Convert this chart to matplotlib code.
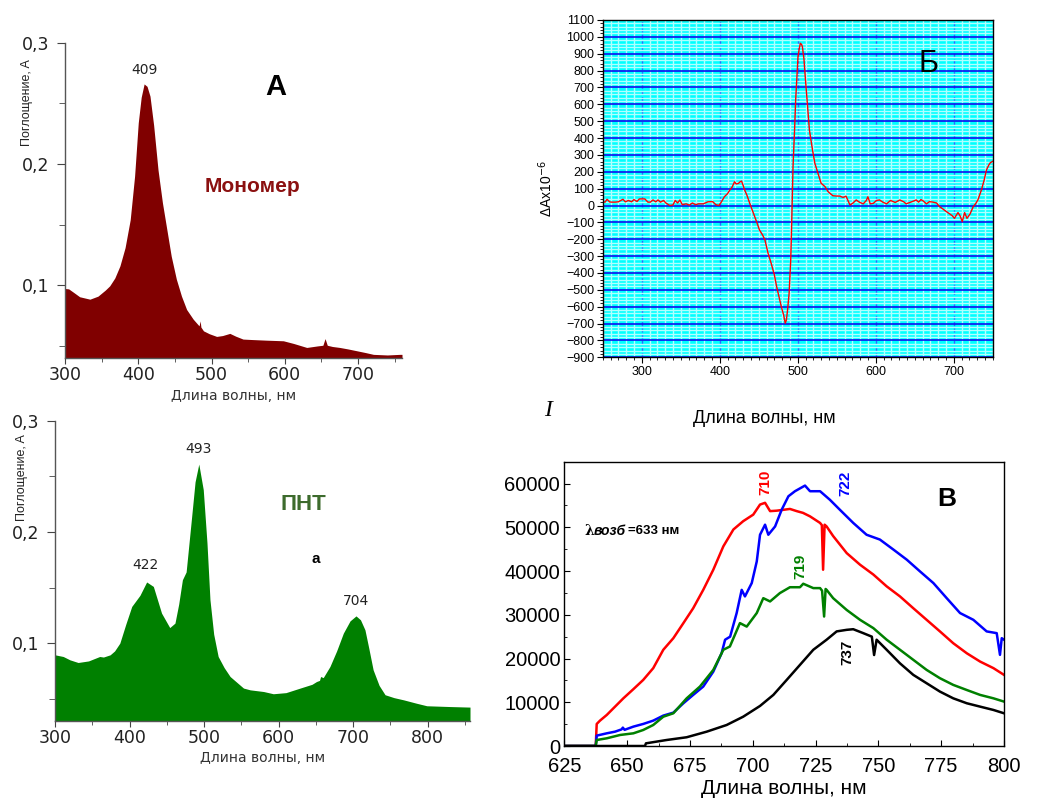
import matplotlib
matplotlib.use("Agg")
import matplotlib.pyplot as plt
import numpy as np
from matplotlib.ticker import MultipleLocator

plt.rcParams['font.family'] = ['Liberation Sans', 'DejaVu Sans']

# ---------------- Panel A: monomer absorption ----------------
mono_wl = [300, 305, 312, 320, 334, 345, 355, 361, 368, 375, 382, 389, 395, 400, 404, 408,
           412, 416, 421, 427, 433, 439, 445, 452, 459, 466, 475, 483, 484.5, 485.5, 489, 497,
           507, 515, 525, 533, 543, 556, 575, 598, 612, 630, 645, 652, 655, 658, 665, 675,
           686, 698, 710, 721, 740, 757, 760]
mono_abs = [0.0973, 0.097, 0.094, 0.0905, 0.0885, 0.091, 0.096, 0.0995, 0.106, 0.116, 0.131,
            0.154, 0.19, 0.234, 0.255, 0.266, 0.264, 0.256, 0.232, 0.195, 0.168, 0.146, 0.124,
            0.105, 0.091, 0.080, 0.072, 0.0665, 0.0706, 0.0655, 0.0624, 0.060,
            0.0578, 0.0585, 0.0603, 0.058, 0.0556, 0.0552, 0.0547, 0.0542, 0.052, 0.0487, 0.050,
            0.0505, 0.056, 0.0505, 0.0495, 0.0487, 0.0475, 0.046, 0.0445, 0.043, 0.0425, 0.043, 0.043]

# ---------------- Panel a: PNT absorption ----------------
pnt_wl = [300, 311, 320, 331, 345, 360, 365, 374, 380, 387, 395, 403, 414, 423, 432, 443, 454,
          461, 466, 471, 476, 483, 488, 493, 499, 504, 508, 513, 519, 527, 535, 553, 562, 580,
          593, 610, 629, 645, 651, 655, 656.5, 660, 669, 678, 687, 696, 704, 710, 716, 721, 727,
          735, 743, 755, 768, 785, 799, 830, 857]
pnt_abs = [0.0895, 0.088, 0.085, 0.0826, 0.084, 0.088, 0.0875, 0.0895, 0.093, 0.100, 0.117,
           0.133, 0.143, 0.155, 0.151, 0.127, 0.114, 0.118, 0.135, 0.157, 0.164, 0.211, 0.245,
           0.261, 0.238, 0.190, 0.139, 0.108, 0.088, 0.078, 0.070, 0.0596, 0.058, 0.0565,
           0.0545, 0.0555, 0.0596, 0.063, 0.0655, 0.0665, 0.070, 0.069, 0.079, 0.093, 0.109, 0.120,
           0.1245, 0.121, 0.112, 0.096, 0.076, 0.062, 0.0536, 0.051, 0.049, 0.046, 0.0437, 0.043, 0.0425]

# ---------------- Panel Б: difference spectrum (wavelength, ΔA×10^6) ----------------
diff_points = [
    (250, 23), (253, 20), (255.6, 37), (259, 21), (262, 20), (266, 20), (270, 22), (276, 37),
    (279, 22), (283, 30), (287, 22), (290, 35), (294, 24), (297, 39), (304, 39), (308, 20),
    (311, 20), (314.5, 33), (318, 22), (321, 33), (324, 20), (328, 30), (331, 15), (336, 0),
    (340, 3), (343, 30), (346, 15), (349, 33), (352, 5), (357, 10), (361, 2), (365, 15),
    (369, 5), (373, 10), (379, 10), (385, 22), (391, 23), (395, 5), (399, 0), (402, 20),
    (406, 52), (410, 70), (413, 92), (416, 110), (419, 141), (421, 128), (424, 131), (426, 140),
    (428, 145), (430, 120), (432, 92), (435, 60), (438.5, 13), (442, -30), (445, -66),
    (448, -105), (451, -145), (455, -175), (458, -204), (462, -283), (466, -343), (470, -410),
    (473, -481), (476, -540), (479, -600), (482, -650), (484, -698), (485.5, -679), (487, -620),
    (489, -520), (491, -330), (492, -165), (494, 230), (496, 450), (497.4, 626), (499, 760),
    (500.4, 883), (502, 930), (503.4, 962), (505, 955), (506, 942), (508, 870), (509, 804),
    (512, 626), (515, 448), (519, 329), (522, 250), (526, 191), (530, 132), (535, 112),
    (539, 82), (545, 58), (550, 56), (554, 56), (558, 48), (562, 55), (567, 3), (571, 15),
    (575, 33), (579, 20), (584, 10), (588, 30), (590, 52), (593, 10), (597, 13), (601, 30),
    (605, 33), (609, 20), (614, 10), (619, 30), (625, 18), (631, 33), (636, 22), (639, 10),
    (645, 20), (652, 33), (655, 20), (658, 35), (661, 27), (665, 10), (669, 23), (673.5, 20),
    (678, 15), (682, -7), (686, -20), (690.6, -36), (695, -50), (698, -60), (701, -76),
    (703, -60), (705.5, -42), (708, -60), (711, -95), (714, -42), (717, -76), (721, -50),
    (725, -7), (728, 10), (731, 33), (733, 60), (735.5, 92), (739, 150), (742, 211),
    (745, 240), (747, 254), (750, 262),
]
diff_wl = [p[0] for p in diff_points]
diff_val = [p[1] for p in diff_points]

# ---------------- Panel В: fluorescence spectra ----------------
red_wl = [625, 637.5, 637.9, 639.2, 641.9, 645.2, 648.5, 652.5, 656.4, 660.4, 664.4, 668.4,
          672.4, 676.3, 680.3, 684.3, 688.3, 692.3, 696.2, 700.2, 702.9, 704.9, 706.9, 709.5,
          712.2, 714.8, 717.5, 720, 722.8, 726.8, 727.5, 728, 728.6, 729.4, 732, 737.4, 742.7,
          748, 753.3, 758.6, 763.9, 769.2, 774.5, 779.8, 785.2, 790.5, 795.8, 800]
red_val = [0, 0, 5040, 5800, 7100, 9000, 10900, 13000, 15100, 17800, 22000, 24650, 28100,
           31500, 35700, 40300, 45650, 49500, 51400, 52900, 55200, 55600, 53700, 53800, 54000,
           54200, 53700, 53300, 52500, 51000, 50500, 40300, 50600, 50200, 48000, 44100, 41450,
           39200, 36500, 34200, 31500, 28850, 26200, 23500, 21200, 19300, 17800, 16260]

blue_wl = [625, 637.5, 637.9, 641.9, 645.2, 647.8, 648.3, 649, 652.5, 656.4, 660.4, 664.4,
           668.4, 672.4, 676.3, 680.3, 684.3, 687.6, 689, 691, 693.6, 695.6, 696.9, 699.6,
           701.6, 702.9, 704.9, 706.2, 708.9, 711.5, 714.2, 716.8, 720.8, 722.8, 726.8, 730.7,
           734.7, 740, 745.3, 750.6, 756, 761.3, 766.6, 771.9, 777.2, 782.5, 787.8, 793.1,
           797.1, 798.4, 799.1, 800]
blue_val = [0, 0, 2370, 2900, 3280, 3800, 4200, 3700, 4430, 5040, 5800, 6950, 7630, 9770,
            11680, 13590, 17000, 21200, 24300, 25000, 30400, 35700, 34200, 37250, 42200, 48300,
            50600, 48300, 50200, 54000, 57100, 58250, 59540, 58250, 58250, 56300, 54000, 51000,
            48300, 47200, 44900, 42600, 39900, 37250, 33800, 30400, 28850, 26200, 25800, 20840,
            24650, 24300]

green_wl = [625, 637.5, 637.9, 641.9, 647.2, 652.5, 656.4, 660.4, 664.4, 668.4, 673.7, 679,
            684.3, 688.3, 690.9, 694.9, 697.6, 701.6, 704.2, 706.9, 710.8, 714.8, 718.8, 720.1,
            724.1, 726.8, 727.6, 728.4, 729, 729.4, 732, 737.4, 742.7, 748, 753.3, 758.6, 763.9,
            769.2, 774.5, 779.8, 785.2, 790.5, 795.8, 800]
green_val = [0, 0, 1370, 1760, 2520, 2900, 3660, 4800, 6700, 7480, 10900, 13600, 17400, 22000,
             22750, 28100, 27300, 30400, 33800, 33050, 34960, 36300, 36300, 37100, 36100, 36100,
             35500, 29600, 35900, 35700, 33800, 31100, 28850, 26950, 24300, 22000, 19700, 17400,
             15500, 13970, 12800, 11680, 10900, 10150]

black_wl = [625, 657.1, 657.5, 665.7, 673.7, 681.7, 689.6, 696.2, 702.9, 708.2, 713.5, 718.8,
            724.1, 729.4, 733.4, 737.4, 740, 744, 747.4, 748.3, 749.3, 753.3, 758.6, 763.9,
            769.2, 774.5, 779.8, 785.2, 790.5, 795.8, 800]
black_val = [0, 0, 610, 1370, 2000, 3280, 4800, 6700, 9160, 11680, 15100, 18550, 22000, 24300,
             26200, 26560, 26700, 25800, 25000, 20800, 24300, 22000, 18900, 16260, 14350, 12440,
             10900, 9770, 9000, 8240, 7480]

abs_yticks = [0.1, 0.2, 0.3]
abs_yticklabels = ["0,1", "0,2", "0,3"]

W, H = 1063, 801
fig = plt.figure(figsize=(W / 100, H / 100), dpi=100)

WIDE = ['DejaVu Sans']


def frac(l, r, t, b):
    return [l / W, 1 - b / H, (r - l) / W, (b - t) / H]


def style_abs(ax, ylab_xy):
    for s in ['top', 'right']:
        ax.spines[s].set_visible(False)
    for s in ['left', 'bottom']:
        ax.spines[s].set_color('#555555')
        ax.spines[s].set_linewidth(1.0)
    ax.tick_params(axis='both', which='both', direction='out', color='#444444')
    ax.tick_params(axis='y', which='major', length=6, pad=5)
    ax.tick_params(axis='y', which='minor', length=4)
    ax.tick_params(axis='x', which='major', length=4, pad=2)
    ax.tick_params(axis='x', which='minor', length=3)
    ax.set_yticks(abs_yticks)
    ax.set_yticklabels(abs_yticklabels)
    ax.yaxis.set_minor_locator(MultipleLocator(0.05))
    ax.xaxis.set_major_locator(MultipleLocator(100))
    ax.xaxis.set_minor_locator(MultipleLocator(50))
    for lab in ax.get_xticklabels() + ax.get_yticklabels():
        lab.set_family(WIDE)
        lab.set_fontsize(12.5)
        lab.set_color('#222222')
    ax.set_xlabel("Длина волны, нм", fontsize=10, color='#333333', labelpad=3, family=WIDE)
    ax.set_ylabel("Поглощение, A", fontsize=9, color='#222222')
    ax.yaxis.set_label_coords(*ylab_xy)


# Panel A
axA = fig.add_axes(frac(65, 402, 42.7, 358))
axA.fill_between(mono_wl, 0, mono_abs, color='#800000', lw=0)
axA.set_xlim(300, 760)
axA.set_ylim(0.04, 0.3)
style_abs(axA, (-0.095, 0.81))
axA.text(409, 0.272, "409", ha='center', va='bottom', fontsize=10, color='#222222', family=WIDE)
fig.text(276 / W, 1 - 87 / H, "A", ha='center', va='center', fontsize=21, fontweight='bold')
fig.text(252 / W, 1 - 186 / H, "Мономер", ha='center', va='center', fontsize=15,
         fontweight='bold', color='#8b1010')

# Panel a
axa = fig.add_axes(frac(55, 470, 420.7, 721))
axa.fill_between(pnt_wl, 0, pnt_abs, color='#008000', lw=0)
axa.set_xlim(300, 857)
axa.set_ylim(0.03, 0.3)
style_abs(axa, (-0.065, 0.81))
axa.text(493, 0.268, "493", ha='center', va='bottom', fontsize=10, color='#222222', family=WIDE)
axa.text(422, 0.164, "422", ha='center', va='bottom', fontsize=10, color='#222222', family=WIDE)
axa.text(704, 0.132, "704", ha='center', va='bottom', fontsize=10, color='#222222', family=WIDE)
fig.text(303 / W, 1 - 505 / H, "ПНТ", ha='center', va='center', fontsize=16,
         fontweight='bold', color='#3d6b2d')
fig.text(316 / W, 1 - 559 / H, "a", ha='center', va='center', fontsize=11, fontweight='bold')

# Panel Б
axB = fig.add_axes(frac(602.7, 992.7, 20, 357.3))
axB.set_facecolor('#00ffff')
axB.set_xlim(250, 750)
axB.set_ylim(-900, 1100)
axB.xaxis.set_major_locator(MultipleLocator(100))
axB.xaxis.set_minor_locator(MultipleLocator(10))
axB.yaxis.set_major_locator(MultipleLocator(100))
axB.yaxis.set_minor_locator(MultipleLocator(20))
axB.grid(which='minor', axis='both', color='#b0ffff', lw=1.0)
axB.grid(which='major', axis='y', color='#1010ee', lw=1.2)
axB.grid(which='major', axis='x', color='#2a6cff', lw=1.0, ls=(0, (3, 1.5)))
axB.set_axisbelow(True)
axB.plot(diff_wl, diff_val, color='#ff0000', lw=1.0)
axB.tick_params(axis='both', which='major', labelsize=9, length=4, direction='out', pad=2)
axB.tick_params(axis='both', which='minor', length=2.5, direction='out')
for s in axB.spines.values():
    s.set_linewidth(1.0)
axB.set_ylabel("ΔAx10$^{-6}$", fontsize=10, labelpad=8)
axB.text(0.835, 0.87, "Б", transform=axB.transAxes, ha='center', va='center', fontsize=22)
fig.text(764 / W, 1 - 419 / H, "Длина волны, нм", ha='center', va='center', fontsize=13)
fig.text(548 / W, 1 - 410 / H, "I", ha='center', va='center', fontsize=17,
         family='Liberation Serif', style='italic')

# Panel В
axV = fig.add_axes(frac(564.3, 1004, 461.7, 746))
axV.plot(red_wl, red_val, color='#ff0000', lw=1.8)
axV.plot(blue_wl, blue_val, color='#0000ff', lw=1.8)
axV.plot(green_wl, green_val, color='#008000', lw=1.8)
axV.plot(black_wl, black_val, color='#000000', lw=1.8)
axV.set_xlim(625, 800)
axV.set_ylim(0, 65000)
axV.xaxis.set_major_locator(MultipleLocator(25))
axV.xaxis.set_minor_locator(MultipleLocator(12.5))
axV.yaxis.set_major_locator(MultipleLocator(10000))
axV.yaxis.set_minor_locator(MultipleLocator(5000))
axV.tick_params(axis='both', which='major', labelsize=14.5, length=4, direction='in')
axV.tick_params(axis='x', which='major', pad=8)
axV.tick_params(axis='y', which='major', pad=3)
axV.tick_params(axis='both', which='minor', length=2.5, direction='in')
for s in axV.spines.values():
    s.set_linewidth(1.0)
axV.set_xlabel("Длина волны, нм", fontsize=15, labelpad=2)
axV.text(705, 57500, "710", rotation=90, ha='center', va='bottom', fontsize=11,
         fontweight='bold', color='#ff0000')
axV.text(737, 57200, "722", rotation=90, ha='center', va='bottom', fontsize=11,
         fontweight='bold', color='#0000ff')
axV.text(719, 38200, "719", rotation=90, ha='center', va='bottom', fontsize=11,
         fontweight='bold', color='#008000')
axV.text(737.5, 18500, "737", rotation=90, ha='center', va='bottom', fontsize=11,
         fontweight='bold', color='#000000')
axV.text(0.87, 0.87, "В", transform=axV.transAxes, ha='center', va='center', fontsize=19,
         fontweight='bold')
axV.text(0.045, 0.755, "λ", transform=axV.transAxes, ha='left', va='center', fontsize=10,
         fontweight='bold', family='DejaVu Serif')
axV.text(0.067, 0.755, "возб", transform=axV.transAxes, ha='left', va='center', fontsize=10,
         fontweight='bold', style='italic')
axV.text(0.145, 0.755, "=633 нм", transform=axV.transAxes, ha='left', va='center',
         fontsize=9.5, fontweight='bold')

fig.savefig("out.png", dpi=100)
